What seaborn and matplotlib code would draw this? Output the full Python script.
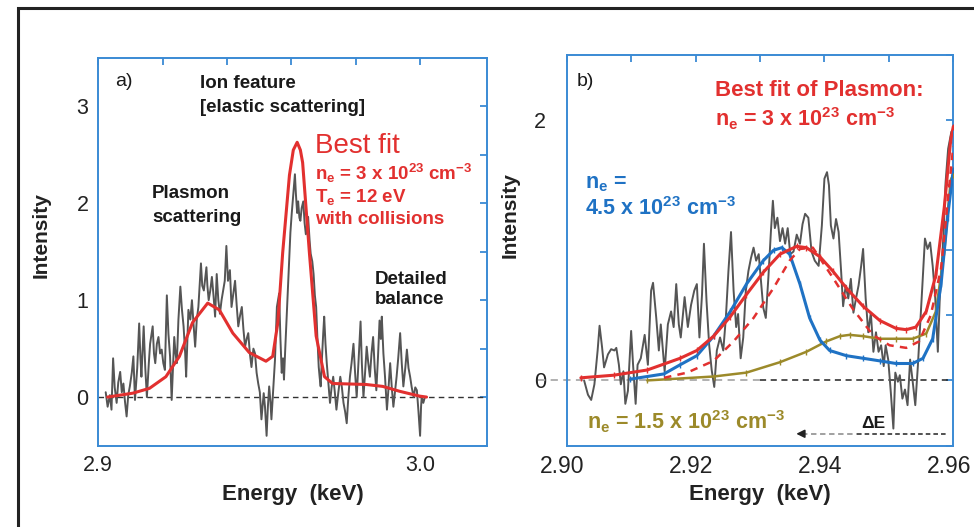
import matplotlib.pyplot as plt
import seaborn as sns
import numpy as np
from matplotlib.patches import Rectangle
from matplotlib.ticker import FixedLocator, FixedFormatter
from matplotlib.transforms import ScaledTranslation

# ---------------- panel a: measured spectrum + best fit ----------------
energy_a = [
    2.9023, 2.9029, 2.9036, 2.9041, 2.9046, 2.9051, 2.9057, 2.9062, 2.9068, 2.9073,
    2.9078, 2.9083, 2.9088, 2.9093, 2.9098, 2.9104, 2.9109, 2.9114, 2.9121, 2.9127,
    2.9131, 2.9134, 2.9141, 2.9146, 2.9151, 2.9157, 2.9161, 2.9169, 2.9173, 2.9177,
    2.9182, 2.9187, 2.9192, 2.9197, 2.9202, 2.9207, 2.9213, 2.9218, 2.9223, 2.9228,
    2.9236, 2.9240, 2.9244, 2.9249, 2.9255, 2.9260, 2.9265, 2.9270, 2.9273, 2.9280,
    2.9286, 2.9291, 2.9296, 2.9301, 2.9306, 2.9311, 2.9319, 2.9323, 2.9328, 2.9336,
    2.9339, 2.9343, 2.9348, 2.9353, 2.9358, 2.9363, 2.9368, 2.9373, 2.9378, 2.9383,
    2.9388, 2.9393, 2.9398, 2.9403, 2.9409, 2.9414, 2.9419, 2.9425, 2.9430, 2.9435,
    2.9441, 2.9446, 2.9451, 2.9456, 2.9461, 2.9466, 2.9471, 2.9476, 2.9482, 2.9487,
    2.9492, 2.9497, 2.9502, 2.9507, 2.9514, 2.9518, 2.9523, 2.9527, 2.9531, 2.9535,
    2.9538, 2.9544, 2.9549, 2.9555, 2.9562, 2.9566, 2.9570, 2.9574, 2.9577, 2.9581,
    2.9585, 2.9589, 2.9594, 2.9597, 2.9601, 2.9605, 2.9608, 2.9611, 2.9614, 2.9618,
    2.9621, 2.9625, 2.9628, 2.9632, 2.9637, 2.9641, 2.9645, 2.9649, 2.9652, 2.9657,
    2.9660, 2.9665, 2.9669, 2.9673, 2.9677, 2.9681, 2.9685, 2.9688, 2.9691, 2.9695,
    2.9699, 2.9702, 2.9706, 2.9710, 2.9715, 2.9720, 2.9725, 2.9730, 2.9735, 2.9740,
    2.9746, 2.9752, 2.9757, 2.9762, 2.9767, 2.9772, 2.9777, 2.9782, 2.9787, 2.9793,
    2.9798, 2.9803, 2.9809, 2.9815, 2.9819, 2.9824, 2.9829, 2.9834, 2.9839, 2.9844,
    2.9849, 2.9854, 2.9859, 2.9864, 2.9869, 2.9874, 2.9878, 2.9881, 2.9886, 2.9891,
    2.9897, 2.9902, 2.9907, 2.9912, 2.9917, 2.9922, 2.9927, 2.9932, 2.9938, 2.9943,
    2.9948, 2.9954, 2.9959, 2.9964, 2.9969, 2.9974, 2.9980, 2.9985, 2.9990, 2.9995,
    3.0000, 3.0003, 3.0005, 3.0010, 3.0015,
]
intensity_a = [
    0.05, -0.10, 0.02, -0.13, 0.40, 0.10, -0.06, 0.15, 0.26, 0.05,
    0.14, -0.05, -0.20, 0.02, 0.11, 0.25, 0.42, -0.03, 0.30, 0.76,
    0.40, 0.21, 0.73, 0.30, 0.00, 0.35, 0.55, 0.73, 0.45, 0.35,
    0.55, 0.62, 0.45, 0.49, 0.35, 0.28, 1.05, 0.65, 0.42, -0.03,
    0.62, 0.45, 0.35, 0.80, 1.14, 0.90, 0.73, 0.45, 0.21, 0.90,
    0.80, 1.00, 0.75, 0.52, 0.80, 0.93, 1.38, 1.15, 1.10, 1.34,
    1.15, 1.00, 1.10, 1.24, 1.05, 0.83, 1.27, 1.00, 0.86, 1.00,
    1.10, 1.20, 1.56, 1.20, 1.31, 0.93, 1.05, 1.20, 0.95, 0.73,
    0.85, 0.93, 0.70, 0.52, 0.60, 0.66, 0.45, 0.31, 0.50, 0.45,
    0.25, 0.14, 0.05, -0.23, 0.04, -0.10, -0.40, -0.10, 0.11, -0.05,
    -0.23, 0.10, 0.38, 0.93, 1.07, 0.60, 0.25, 0.40, 0.18, 0.50,
    0.79, 1.10, 1.48, 1.70, 1.89, 2.05, 2.16, 2.30, 2.10, 1.90,
    2.02, 1.85, 1.82, 1.95, 2.02, 1.80, 1.68, 1.75, 1.86, 1.60,
    1.48, 1.40, 1.27, 1.05, 0.93, 0.60, 0.31, 0.20, 0.11, 0.40,
    0.66, 0.83, 0.55, 0.35, 0.15, -0.06, 0.10, 0.21, 0.05, -0.13,
    0.05, 0.21, 0.10, -0.06, -0.15, -0.27, 0.00, 0.21, 0.35, 0.55,
    0.25, 0.00, 0.40, 0.78, 0.35, 0.00, 0.25, 0.52, 0.35, 0.21,
    0.45, 0.62, 0.30, 0.07, 0.40, 0.79, 0.60, 0.83, 0.45, 0.21,
    -0.13, 0.10, 0.35, 0.10, -0.10, 0.05, 0.21, 0.40, 0.66, 0.35,
    0.11, 0.30, 0.49, 0.30, 0.21, 0.10, 0.00, 0.10, 0.07, -0.15,
    -0.40, -0.10, 0.00, -0.06, 0.00,
]
fit_energy_a = [
    2.9029, 2.9107, 2.9159, 2.9210, 2.9252, 2.9293, 2.9340, 2.9376, 2.9418, 2.9469,
    2.9521, 2.9542, 2.9558, 2.9573, 2.9594, 2.9606, 2.9618, 2.9628, 2.9635, 2.9656,
    2.9677, 2.9703, 2.9728, 2.9832, 2.9884, 2.9936, 2.9998, 3.0020,
]
fit_intensity_a = [
    0.00, 0.04, 0.09, 0.21, 0.42, 0.77, 0.97, 0.90, 0.66, 0.46,
    0.37, 0.42, 0.77, 1.49, 2.29, 2.55, 2.63, 2.55, 2.42, 1.49,
    0.63, 0.21, 0.14, 0.13, 0.11, 0.06, 0.01, 0.00,
]

# ---------------- panel b: plasmon region, three densities ----------------
energy_b = [
    2.9027, 2.9033, 2.9038, 2.9043, 2.9048, 2.9051, 2.9055, 2.9058, 2.9064, 2.9069,
    2.9074, 2.9077, 2.9081, 2.9084, 2.9088, 2.9091, 2.9095, 2.9100, 2.9103, 2.9107,
    2.9110, 2.9115, 2.9121, 2.9126, 2.9131, 2.9134, 2.9139, 2.9143, 2.9146, 2.9152,
    2.9157, 2.9162, 2.9166, 2.9170, 2.9174, 2.9177, 2.9183, 2.9188, 2.9193, 2.9198,
    2.9202, 2.9206, 2.9210, 2.9213, 2.9217, 2.9221, 2.9225, 2.9229, 2.9233, 2.9238,
    2.9243, 2.9247, 2.9251, 2.9255, 2.9259, 2.9263, 2.9266, 2.9270, 2.9274, 2.9278,
    2.9282, 2.9286, 2.9290, 2.9294, 2.9298, 2.9301, 2.9305, 2.9309, 2.9313, 2.9317,
    2.9320, 2.9323, 2.9327, 2.9331, 2.9335, 2.9339, 2.9343, 2.9347, 2.9352, 2.9357,
    2.9362, 2.9366, 2.9370, 2.9375, 2.9380, 2.9385, 2.9391, 2.9396, 2.9400, 2.9404,
    2.9407, 2.9410, 2.9414, 2.9418, 2.9422, 2.9426, 2.9429, 2.9433, 2.9437, 2.9441,
    2.9445, 2.9449, 2.9453, 2.9457, 2.9460, 2.9464, 2.9468, 2.9472, 2.9476, 2.9480,
    2.9484, 2.9488, 2.9492, 2.9495, 2.9499, 2.9503, 2.9507, 2.9510, 2.9514, 2.9517,
    2.9521, 2.9525, 2.9529, 2.9533, 2.9537, 2.9541, 2.9545, 2.9548, 2.9552, 2.9556,
    2.9560, 2.9564, 2.9568, 2.9572, 2.9576, 2.9579, 2.9585, 2.9588, 2.9592, 2.9597,
    2.9599,
]
intensity_b = [
    0.00, -0.11, -0.15, -0.03, 0.23, 0.42, 0.25, 0.10, 0.20, 0.24,
    0.23, 0.25, 0.12, -0.03, 0.07, -0.18, -0.08, 0.38, 0.12, -0.18,
    0.12, 0.17, 0.35, 0.12, 0.69, 0.75, 0.48, 0.23, 0.43, 0.07,
    0.43, 0.53, 0.41, 0.74, 0.43, 0.33, 0.64, 0.41, 0.58, 0.69,
    0.74, 0.33, 0.66, 1.05, 0.61, 0.28, 0.08, -0.05, 0.23, 0.33,
    0.23, 0.48, 0.84, 1.14, 0.69, 0.41, 0.51, 0.17, 0.33, 0.69,
    0.84, 0.94, 1.02, 0.92, 0.97, 0.79, 0.56, 0.48, 0.79, 1.15,
    1.38, 1.17, 1.25, 1.07, 1.17, 1.05, 1.17, 0.97, 0.99, 1.12,
    1.05, 1.20, 1.28, 1.25, 0.99, 0.92, 0.88, 1.19, 1.55, 1.60,
    1.50, 1.19, 1.09, 1.24, 1.14, 0.83, 0.57, 0.73, 0.63, 0.78,
    0.52, 0.63, 0.73, 0.88, 1.01, 0.63, 0.37, 0.52, 0.22, 0.37,
    0.22, 0.27, 0.11, 0.27, 0.16, -0.09, -0.37, 0.06, -0.01, 0.04,
    -0.14, -0.07, -0.19, 0.16, -0.01, -0.19, 0.11, 0.37, 0.73, 1.09,
    1.01, 1.06, 0.88, 0.63, 0.22, 0.63, 1.14, 1.52, 1.78, 1.91,
    1.92,
]

# best fit, n_e = 3e23 (solid red)
red_energy = [
    2.9022, 2.9073, 2.9125, 2.9176, 2.9202, 2.9228, 2.9254, 2.9279, 2.9305, 2.9331,
    2.9357, 2.9372, 2.9393, 2.9413, 2.9434, 2.9460, 2.9486, 2.9511, 2.9527, 2.9542,
    2.9558, 2.9573, 2.9586, 2.9596, 2.9600,
]
red_intensity = [
    0.02, 0.04, 0.08, 0.17, 0.23, 0.34, 0.49, 0.66, 0.83, 0.97,
    1.03, 1.02, 0.95, 0.84, 0.71, 0.57, 0.46, 0.40, 0.39, 0.41,
    0.53, 0.81, 1.33, 1.85, 1.95,
]
# dashed red variant
red_dash_energy = [
    2.9151, 2.9187, 2.9228, 2.9259, 2.9290, 2.9321, 2.9346, 2.9362, 2.9382, 2.9413,
    2.9444, 2.9475, 2.9501, 2.9527, 2.9547, 2.9565, 2.9581, 2.9594, 2.9600,
]
red_dash_intensity = [
    0.02, 0.06, 0.15, 0.30, 0.48, 0.71, 0.92, 1.01, 1.02, 0.79,
    0.55, 0.35, 0.27, 0.25, 0.30, 0.50, 0.86, 1.51, 1.80,
]
# n_e = 4.5e23 (blue)
blue_energy = [
    2.9099, 2.9151, 2.9176, 2.9202, 2.9228, 2.9254, 2.9279, 2.9305, 2.9321, 2.9334,
    2.9346, 2.9362, 2.9377, 2.9393, 2.9408, 2.9434, 2.9460, 2.9486, 2.9511, 2.9537,
    2.9553, 2.9568, 2.9581, 2.9591, 2.9600,
]
blue_intensity = [
    0.01, 0.05, 0.12, 0.19, 0.34, 0.53, 0.74, 0.92, 1.00, 1.02,
    0.97, 0.74, 0.48, 0.31, 0.23, 0.19, 0.17, 0.15, 0.13, 0.13,
    0.17, 0.32, 0.74, 1.25, 1.62,
]
# n_e = 1.5e23 (olive)
olive_energy = [
    2.9125, 2.9228, 2.9279, 2.9331, 2.9372, 2.9403, 2.9424, 2.9439, 2.9460, 2.9486,
    2.9511, 2.9537, 2.9558, 2.9573, 2.9586, 2.9596, 2.9600,
]
olive_intensity = [
    0.00, 0.03, 0.06, 0.14, 0.22, 0.30, 0.34, 0.35, 0.34, 0.32,
    0.32, 0.32, 0.36, 0.53, 0.99, 1.54, 1.58,
]

GRAY = "#555555"
RED = "#e2302f"
BLUE = "#1f72c4"
OLIVE = "#9c8a2a"
AXBLUE = "#3a8ad4"
INK = "#1a1a1a"

sns.set_theme(style="white")
plt.rcParams["font.family"] = ["Liberation Sans", "DejaVu Sans"]
plt.rcParams["mathtext.fontset"] = "custom"
plt.rcParams["mathtext.rm"] = "Liberation Sans:bold"
plt.rcParams["mathtext.default"] = "rm"

W, H = 974, 527
fig = plt.figure(figsize=(W / 100, H / 100), dpi=100)
ax_a = fig.add_axes([98.3 / W, 1 - 445.5 / H, 388.4 / W, 387.5 / H])
ax_b = fig.add_axes([566.7 / W, 1 - 445.5 / H, 386.6 / W, 390.5 / H])

# outer frame
fig.patches.append(Rectangle((17.5 / W, -0.1), 1.0, 1.1 - 8.4 / H,
                             transform=fig.transFigure, fill=False,
                             edgecolor="#222222", lw=2.2))


def label(x, y, s, **kw):
    # place text by pixel position in the figure
    opts = dict(va="center", ha="left", fontsize=13.5, fontweight="bold", color=INK)
    opts.update(kw)
    fig.text(x / W, 1 - y / H, s, **opts)


def style_axes(ax, xticks, xlabels, yticks, ylabels, ypad, xsize):
    for sp in ax.spines.values():
        sp.set_color(AXBLUE)
        sp.set_linewidth(1.4)
    ax.xaxis.set_major_locator(FixedLocator(xticks))
    ax.xaxis.set_major_formatter(FixedFormatter(xlabels))
    ax.yaxis.set_major_locator(FixedLocator(yticks))
    ax.yaxis.set_major_formatter(FixedFormatter(ylabels))
    ax.tick_params(axis="both", which="major", direction="in", length=5,
                   width=1.3, color=AXBLUE, top=True, right=True,
                   labelsize=15.5, labelcolor="#222222")
    ax.tick_params(axis="x", pad=7, labelsize=xsize)
    ax.tick_params(axis="y", pad=ypad)
    ax.set_xlabel("Energy  (keV)", fontsize=16, fontweight="bold", color="#222222")
    ax.set_ylabel("Intensity", fontsize=15, fontweight="bold", color="#222222")
    ax.xaxis.set_label_coords(0.5, -0.099)
    ax.grid(False)


# ---- panel a ----
ax = ax_a
ax.axhline(0, ls=(0, (4, 3)), color="#333333", lw=1.0, zorder=1)
sns.lineplot(x=energy_a, y=intensity_a, ax=ax, color=GRAY, lw=1.4,
             sort=False, estimator=None, zorder=2)
sns.lineplot(x=fit_energy_a, y=fit_intensity_a, ax=ax, color=RED, lw=2.2,
             sort=False, estimator=None, zorder=3)
ax.set_xlim(2.9, 3.0207)
ax.set_ylim(-0.5, 3.5)
style_axes(ax, [2.9, 2.92, 2.94, 2.96, 2.98, 3.0], ["2.9", "", "", "", "", "3.0"],
           [-0.5, 0, 0.5, 1, 1.5, 2, 2.5, 3, 3.5],
           ["", "0", "", "1", "", "2", "", "3", ""], 7, 15.5)
ax.yaxis.set_label_coords(-0.124, 0.543)

label(115, 82, "a)", fontweight="normal", fontsize=14)
label(200, 84, "Ion feature")
label(200, 107.6, "[elastic scattering]")
label(152, 193, "Plasmon")
label(152, 217, "scattering")
label(375, 279, "Detailed")
label(375, 299, "balance")
label(315, 146, "Best fit", color=RED, fontsize=20, fontweight="normal")
label(315, 173, r"n$_e$ = 3 x 10$^{23}$ cm$^{-3}$", color=RED)
label(315, 197, r"T$_e$ = 12 eV", color=RED)
label(315, 220, "with collisions", color=RED)

# ---- panel b ----
ax = ax_b
ax.plot([2.8955, 2.930], [0, 0], ls=(0, (4, 3)), color="#aaaaaa", lw=1.3,
        clip_on=False, zorder=1)
ax.plot([2.930, 2.960], [0, 0], ls=(0, (4, 3)), color="#222222", lw=1.1, zorder=1)
sns.lineplot(x=energy_b, y=intensity_b, ax=ax, color=GRAY, lw=1.4,
             sort=False, estimator=None, zorder=2)
mk = dict(marker="|", markersize=4, markeredgewidth=1, sort=False, estimator=None)
sns.lineplot(x=olive_energy, y=olive_intensity, ax=ax, color=OLIVE, lw=1.8,
             markeredgecolor=OLIVE, zorder=3, **mk)
sns.lineplot(x=blue_energy, y=blue_intensity, ax=ax, color=BLUE, lw=2.2,
             markeredgecolor=BLUE, zorder=4, **mk)
sns.lineplot(x=red_dash_energy, y=red_dash_intensity, ax=ax, color=RED, lw=1.8,
             linestyle=(0, (3, 2.5)), sort=False, estimator=None, zorder=4)
sns.lineplot(x=red_energy, y=red_intensity, ax=ax, color=RED, lw=2.2,
             markeredgecolor=RED, zorder=5, **mk)
# delta-E arrow
ax.plot([2.9450, 2.9589], [-0.41, -0.41], ls=(0, (3, 2)), color="#222222", lw=1.1)
ax.plot([2.9365, 2.9450], [-0.41, -0.41], ls=(0, (3, 2)), color="#999999", lw=1.3)
ax.annotate("", xy=(2.9352, -0.41), xytext=(2.9372, -0.41),
            arrowprops=dict(arrowstyle="-|>", color="#222222", lw=1.2,
                            mutation_scale=12))
ax.set_xlim(2.90, 2.96)
ax.set_ylim(-0.5, 2.5)
style_axes(ax, [2.90, 2.91, 2.92, 2.93, 2.94, 2.95, 2.96],
           ["2.90", "", "2.92", "", "2.94", "", "2.96"],
           [-0.5, 0, 0.5, 1, 1.5, 2, 2.5],
           ["", "0", "", "", "", "2", ""], 15, 16.5)
ax.yaxis.set_label_coords(-0.123, 0.590)

label(577, 81, "b)", fontweight="normal", fontsize=14)
label(715, 90.5, "Best fit of Plasmon:", color=RED, fontsize=16)
label(715, 118.5, r"n$_e$ = 3 x 10$^{23}$ cm$^{-3}$", color=RED, fontsize=15.5)
label(585, 184, r"n$_e$ =", color=BLUE, fontsize=15.5)
label(585, 209, r"4.5 x 10$^{23}$ cm$^{-3}$", color=BLUE, fontsize=15.5)
label(587, 422, r"n$_e$ = 1.5 x 10$^{23}$ cm$^{-3}$", color=OLIVE, fontsize=15.5)
label(861, 423, "ΔE", fontsize=12.5)

# tick labels of panel b sit slightly left of their ticks
fig.canvas.draw()
shift = ScaledTranslation(-4.5 / 100, 0, fig.dpi_scale_trans)
for lab in ax_b.get_xticklabels():
    lab.set_transform(lab.get_transform() + shift)

fig.savefig("out.png", dpi=100)
